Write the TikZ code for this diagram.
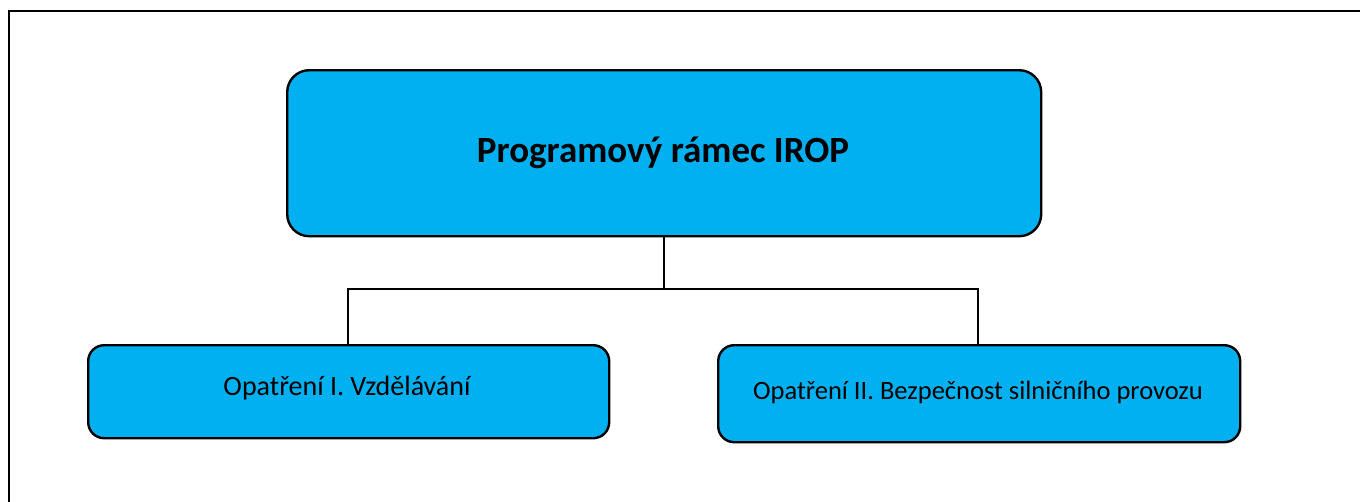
\documentclass[tikz,border=0pt]{standalone}
\usepackage{fontspec}
\setmainfont{Carlito}
\definecolor{boxblue}{HTML}{00B0F0}
\begin{document}
\begin{tikzpicture}[x=1pt,y=-1pt,
  box/.style={draw=black,fill=boxblue,line width=2.4pt,rounded corners=22pt,inner sep=0pt,anchor=north west},
  conn/.style={draw=black,line width=2.2pt},
  frame/.style={draw=black,line width=2.8pt}]
\useasboundingbox (0,0) rectangle (1360,501);
\fill[white] (0,0) rectangle (1360,501);
\draw[frame] (9,502) -- (9,11) -- (1361,11);
\node[box,minimum width=754pt,minimum height=166pt] (top) at (286,69) {};
\node[font=\fontsize{37}{44}\selectfont\bfseries] (toplbl) at (663,153) {Programový rámec IROP};
\node[box,minimum width=521pt,minimum height=93pt,rounded corners=16pt] (left) at (87,344) {};
\node[font=\fontsize{28}{34}\selectfont] (leftlbl) at (347,388) {Opatření I. Vzdělávání};
\node[box,minimum width=522pt,minimum height=97pt,rounded corners=16pt] (right) at (717,344) {};
\node[font=\fontsize{26.5}{32}\selectfont] (rightlbl) at (978,392) {Opatření II. Bezpečnost silničního provozu};
\coordinate (mid) at (663,289);
\draw[conn] (top.south) -- (top.south |- mid);
\draw[conn] (left.north -| 348,0) |- (mid) -| (right.north -| 978,0);
\end{tikzpicture}
\end{document}
